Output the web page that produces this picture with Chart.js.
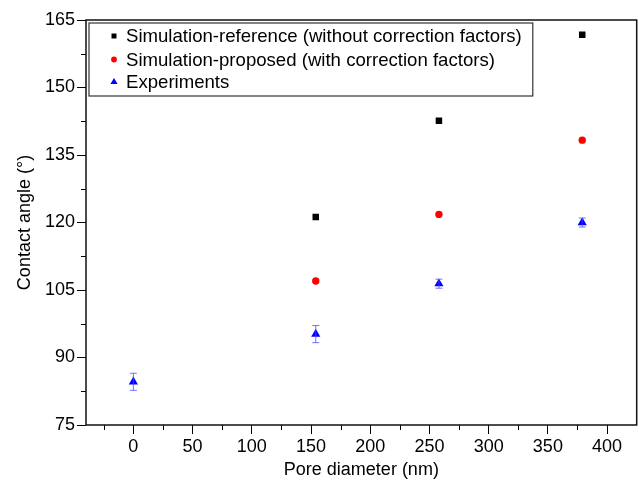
<!DOCTYPE html>
<html>
<head>
<meta charset="utf-8">
<script src="https://cdn.jsdelivr.net/npm/chart.js@4"></script>
<style>
html,body{margin:0;padding:0;background:#fff;}
#wrap{width:642px;height:486px;}
</style>
</head>
<body>
<div id="wrap"><canvas id="c" width="642" height="486"></canvas></div>
<script>
// ---- data ----
const poreDiameter = [0, 154, 258, 379];
const simReference = [null, 121.2, 142.6, 161.7];
const simProposed = [null, 107.0, 121.8, 138.3];
const experiments = [84.6, 95.2, 106.4, 120.0];
const experimentErr = [1.9, 1.9, 1.0, 1.0];
const seriesLabels = [
  'Simulation-reference (without correction factors)',
  'Simulation-proposed (with correction factors)',
  'Experiments'
];
const xTickValues = [0, 50, 100, 150, 200, 250, 300, 350, 400];
const xMinorValues = [-25, 25, 75, 125, 175, 225, 275, 325, 375, 425];
const yTickValues = [75, 90, 105, 120, 135, 150, 165];
const yMinorValues = [82.5, 97.5, 112.5, 127.5, 142.5, 157.5];

const FONT = "'Liberation Sans', Arial, sans-serif";

function pts(ys) {
  const out = [];
  ys.forEach((y, i) => { if (y !== null) out.push({x: poreDiameter[i], y: y}); });
  return out;
}

const errorBars = {
  id: 'errorBars',
  afterDatasetsDraw(chart) {
    const ctx = chart.ctx, xs = chart.scales.x, ys = chart.scales.y;
    ctx.save();
    ctx.strokeStyle = 'rgba(70,70,255,0.75)';
    ctx.lineWidth = 1;
    experiments.forEach((v, i) => {
      const px = xs.getPixelForValue(poreDiameter[i]);
      const top = ys.getPixelForValue(v + experimentErr[i]);
      const bot = ys.getPixelForValue(v - experimentErr[i]);
      ctx.beginPath();
      ctx.moveTo(px, top); ctx.lineTo(px, bot);
      ctx.moveTo(px - 3.5, top); ctx.lineTo(px + 3.5, top);
      ctx.moveTo(px - 3.5, bot); ctx.lineTo(px + 3.5, bot);
      ctx.stroke();
    });
    ctx.restore();
  }
};

const frame = {
  id: 'frame',
  afterDraw(chart) {
    const ctx = chart.ctx, a = chart.chartArea, xs = chart.scales.x, ys = chart.scales.y;
    ctx.save();
    ctx.strokeStyle = '#000';
    ctx.lineWidth = 1;
    ctx.beginPath();
    xMinorValues.forEach(v => {
      const p = Math.round(xs.getPixelForValue(v)) + 0.5;
      if (p > a.left + 1 && p < a.right - 1) { ctx.moveTo(p, a.bottom); ctx.lineTo(p, a.bottom + 5); }
    });
    yMinorValues.forEach(v => {
      const p = Math.round(ys.getPixelForValue(v)) + 0.5;
      ctx.moveTo(a.left, p); ctx.lineTo(a.left - 5, p);
    });
    ctx.stroke();
    ctx.lineWidth = 1.5;
    ctx.strokeStyle = '#111';
    ctx.strokeRect(a.left, a.top, a.right - a.left, a.bottom - a.top);
    // legend
    const lx = a.left + 3, ly = a.top + 3;
    ctx.font = '18.6px ' + FONT;
    let maxW = 0;
    seriesLabels.forEach(t => { maxW = Math.max(maxW, ctx.measureText(t).width); });
    const bw = 37 + maxW + 11, bh = 73;
    ctx.lineWidth = 1.2;
    ctx.strokeStyle = '#333';
    ctx.strokeRect(lx, ly, bw, bh);
    ctx.textBaseline = 'middle';
    const rows = [ly + 13, ly + 36.5, ly + 58.5];
    const mx = lx + 25;
    ctx.fillStyle = '#000';
    ctx.fillRect(mx - 2.5, rows[0] - 2.5, 5, 5);
    ctx.fillStyle = '#ff0000';
    ctx.beginPath(); ctx.arc(mx, rows[1], 2.9, 0, Math.PI * 2); ctx.fill();
    ctx.fillStyle = '#0000ff';
    ctx.beginPath();
    ctx.moveTo(mx, rows[2] - 3.5); ctx.lineTo(mx + 3.6, rows[2] + 2.6); ctx.lineTo(mx - 3.6, rows[2] + 2.6);
    ctx.closePath(); ctx.fill();
    ctx.fillStyle = '#000';
    seriesLabels.forEach((t, i) => ctx.fillText(t, lx + 37, rows[i] + 1));
    ctx.restore();
  }
};

new Chart(document.getElementById('c'), {
  type: 'scatter',
  data: {
    datasets: [
      { label: seriesLabels[0], data: pts(simReference), pointStyle: 'rect', pointRadius: 4.6,
        backgroundColor: '#000', borderColor: '#000', borderWidth: 0 },
      { label: seriesLabels[1], data: pts(simProposed), pointStyle: 'circle', pointRadius: 3.7,
        backgroundColor: '#ff0000', borderColor: '#ff0000', borderWidth: 0 },
      { label: seriesLabels[2], data: pts(experiments), pointStyle: 'triangle', pointRadius: 5.3,
        backgroundColor: '#0000ff', borderColor: '#0000ff', borderWidth: 0 }
    ]
  },
  plugins: [errorBars, frame],
  options: {
    responsive: false,
    animation: false,
    events: [],
    layout: { padding: { top: 20, right: 2, left: 0, bottom: 0 } },
    plugins: { legend: { display: false }, tooltip: { enabled: false } },
    scales: {
      x: {
        type: 'linear', min: -40, max: 425,
        afterBuildTicks(s) { s.ticks = xTickValues.map(v => ({value: v})); },
        afterFit(s) { s.height = 61; },
        grid: { drawOnChartArea: false, drawTicks: true, tickLength: 9, tickColor: '#000' },
        border: { display: false },
        ticks: { color: '#000', padding: 2, maxRotation: 0, font: { family: FONT, size: 18 } },
        title: { display: true, text: 'Pore diameter (nm)', color: '#000',
          font: { family: FONT, size: 18 }, padding: { top: 0, bottom: 5 } }
      },
      y: {
        type: 'linear', min: 75, max: 165,
        afterBuildTicks(s) { s.ticks = yTickValues.map(v => ({value: v})); },
        afterFit(s) { s.width = 86; },
        grid: { drawOnChartArea: false, drawTicks: true, tickLength: 9, tickColor: '#000' },
        border: { display: false },
        ticks: { color: '#000', padding: 2, font: { family: FONT, size: 18 } },
        title: { display: true, text: 'Contact angle (°)', color: '#000',
          font: { family: FONT, size: 18 }, padding: { top: 14, bottom: 0 } }
      }
    }
  }
});
</script>
</body>
</html>
